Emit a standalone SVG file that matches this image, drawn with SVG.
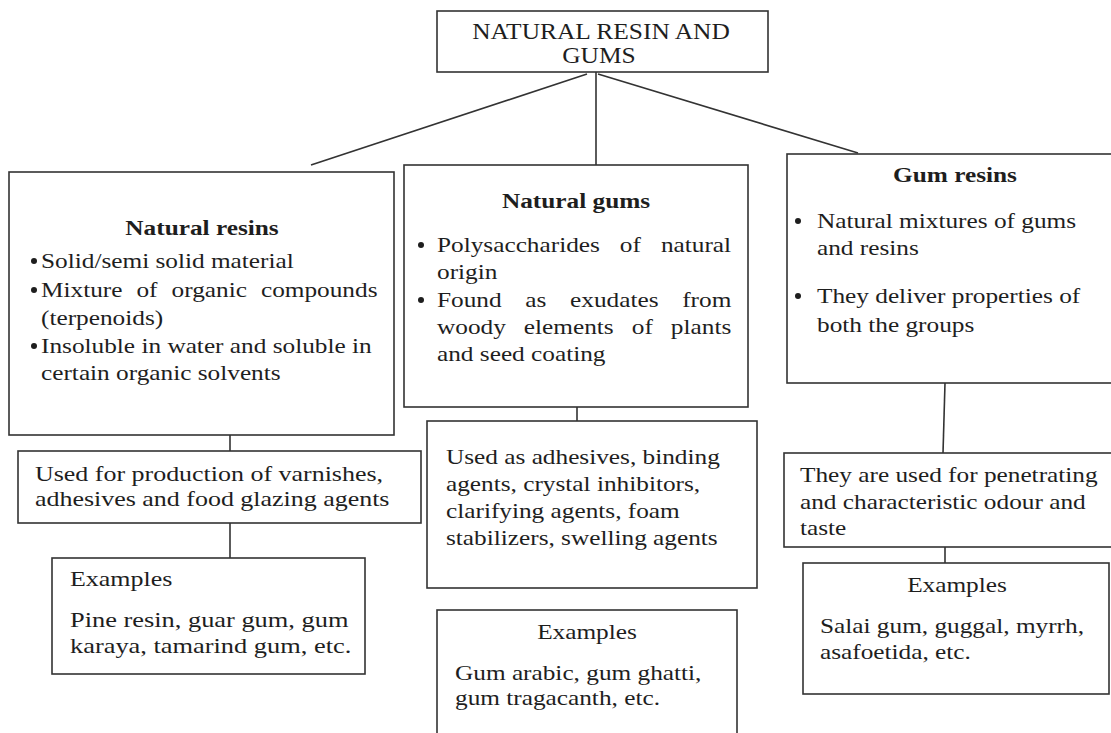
<svg xmlns="http://www.w3.org/2000/svg" width="1111" height="733" viewBox="0 0 1111 733">
<style>
.box{fill:#fff;stroke:#333;stroke-width:1.6}
.ln{stroke:#333;stroke-width:1.6;fill:none}
.t{font-family:'Liberation Serif',Tinos,'Times New Roman',Times,serif;font-size:22px;fill:#1e1e1e}
.b{font-weight:bold}
.c{text-anchor:middle}
.h{font-size:24px}
.dot{fill:#1e1e1e}
</style>
<rect width="1111" height="733" fill="#fff"/>
<g id="connectors">
<line class="ln" x1="587" y1="74" x2="311" y2="165"/>
<line class="ln" x1="596" y1="72" x2="596" y2="165"/>
<line class="ln" x1="598" y1="74" x2="858" y2="153"/>
<line class="ln" x1="230" y1="435" x2="230" y2="451"/>
<line class="ln" x1="230" y1="523" x2="230" y2="558"/>
<line class="ln" x1="577" y1="407" x2="577" y2="421"/>
<line class="ln" x1="945" y1="383" x2="943" y2="453"/>
<line class="ln" x1="945" y1="547" x2="945" y2="563"/>
</g>
<g id="root">
<rect class="box" x="437" y="11" width="331" height="61"/>
<text class="t h c" transform="translate(601 39) scale(1.06 1)">NATURAL RESIN AND</text>
<text class="t h c" transform="translate(599 63) scale(1.06 1)">GUMS</text>
</g>
<g id="natural-resins">
<rect class="box" x="9" y="172" width="385" height="263"/>
<text class="t b c" transform="translate(202 235) scale(1.15 1)">Natural resins</text>
<circle class="dot" cx="34" cy="261" r="3"/>
<text class="t" transform="translate(41 268) scale(1.15 1)">Solid/semi solid material</text>
<circle class="dot" cx="34" cy="290" r="3"/>
<text class="t" transform="translate(41 297) scale(1.15 1)" word-spacing="6.7">Mixture of organic compounds</text>
<text class="t" transform="translate(41 325) scale(1.15 1)">(terpenoids)</text>
<circle class="dot" cx="34" cy="346" r="3"/>
<text class="t" transform="translate(41 353) scale(1.15 1)">Insoluble in water and soluble in</text>
<text class="t" transform="translate(41 380) scale(1.15 1)">certain organic solvents</text>
</g>
<g id="natural-gums">
<rect class="box" x="404" y="165" width="344" height="242"/>
<text class="t b c" transform="translate(576 208) scale(1.15 1)">Natural gums</text>
<circle class="dot" cx="421" cy="245" r="3"/>
<text class="t" transform="translate(437 252) scale(1.15 1)" word-spacing="11.9">Polysaccharides of natural</text>
<text class="t" transform="translate(437 279) scale(1.15 1)">origin</text>
<circle class="dot" cx="421" cy="300" r="3"/>
<text class="t" transform="translate(437 307) scale(1.15 1)" word-spacing="15.1">Found as exudates from</text>
<text class="t" transform="translate(437 334) scale(1.15 1)" word-spacing="10.2">woody elements of plants</text>
<text class="t" transform="translate(437 361) scale(1.15 1)">and seed coating</text>
</g>
<g id="gum-resins">
<rect class="box" x="787" y="154" width="330" height="229"/>
<text class="t b c" transform="translate(955 182) scale(1.15 1)">Gum resins</text>
<circle class="dot" cx="798" cy="221" r="3"/>
<text class="t" transform="translate(817 228) scale(1.15 1)">Natural mixtures of gums</text>
<text class="t" transform="translate(817 255) scale(1.15 1)">and resins</text>
<circle class="dot" cx="798" cy="296" r="3"/>
<text class="t" transform="translate(817 303) scale(1.15 1)">They deliver properties of</text>
<text class="t" transform="translate(817 332) scale(1.15 1)">both the groups</text>
</g>
<g id="resin-uses">
<rect class="box" x="18" y="451" width="403" height="72"/>
<text class="t" transform="translate(35 481) scale(1.18 1)">Used for production of varnishes,</text>
<text class="t" transform="translate(35 506) scale(1.18 1)">adhesives and food glazing agents</text>
</g>
<g id="resin-examples">
<rect class="box" x="52" y="558" width="313" height="116"/>
<text class="t" transform="translate(70 586) scale(1.18 1)">Examples</text>
<text class="t" transform="translate(70 627) scale(1.2 1)">Pine resin, guar gum, gum</text>
<text class="t" transform="translate(70 653) scale(1.2 1)">karaya, tamarind gum, etc.</text>
</g>
<g id="gum-uses">
<rect class="box" x="427" y="421" width="330" height="167"/>
<text class="t" transform="translate(446 464) scale(1.15 1)">Used as adhesives, binding</text>
<text class="t" transform="translate(446 491) scale(1.15 1)">agents, crystal inhibitors,</text>
<text class="t" transform="translate(446 518) scale(1.15 1)">clarifying agents, foam</text>
<text class="t" transform="translate(446 545) scale(1.15 1)">stabilizers, swelling agents</text>
</g>
<g id="gum-examples">
<rect class="box" x="437" y="610" width="300" height="135"/>
<text class="t c" transform="translate(587 639) scale(1.15 1)">Examples</text>
<text class="t" transform="translate(455 680) scale(1.15 1)">Gum arabic, gum ghatti,</text>
<text class="t" transform="translate(455 705) scale(1.15 1)">gum tragacanth, etc.</text>
</g>
<g id="gum-resin-uses">
<rect class="box" x="784" y="453" width="333" height="94"/>
<text class="t" transform="translate(800 482) scale(1.15 1)">They are used for penetrating</text>
<text class="t" transform="translate(800 509) scale(1.15 1)">and characteristic odour and</text>
<text class="t" transform="translate(800 535) scale(1.15 1)">taste</text>
</g>
<g id="gum-resin-examples">
<rect class="box" x="803" y="563" width="306" height="131"/>
<text class="t c" transform="translate(957 592) scale(1.15 1)">Examples</text>
<text class="t" transform="translate(820 633) scale(1.15 1)">Salai gum, guggal, myrrh,</text>
<text class="t" transform="translate(820 659) scale(1.15 1)">asafoetida, etc.</text>
</g>
</svg>
